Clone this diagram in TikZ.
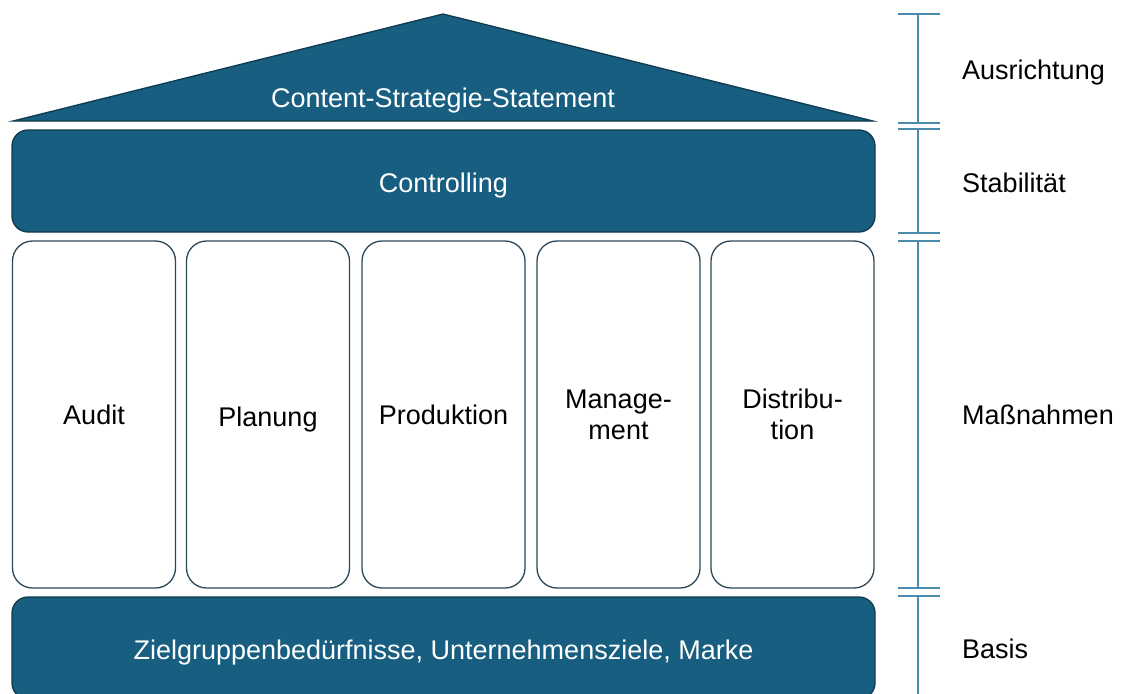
\documentclass[tikz,border=0pt]{standalone}
\usepackage{fontspec}
\setmainfont{Liberation Sans}
\definecolor{housefill}{RGB}{23,94,128}
\definecolor{houseline}{RGB}{16,58,78}
\definecolor{pillarline}{RGB}{44,72,88}
\definecolor{scaleline}{RGB}{74,140,174}
\tikzset{
  beam/.style={rectangle, rounded corners=16pt, draw=houseline, line width=1.3pt, fill=housefill,
    text=white, minimum width=863pt, minimum height=102pt, inner sep=0pt,
    text height=22pt, text depth=0pt},
  pillar/.style={rectangle, rounded corners=20pt, draw=pillarline, line width=1.3pt, fill=white,
    minimum width=163pt, minimum height=347pt, align=center, inner sep=0pt},
  tick/.style={draw=scaleline, line width=1.3pt},
  levellabel/.style={anchor=west, inner sep=0pt}
}
\begin{document}
\begin{tikzpicture}[x=1pt, y=-1pt, font=\fontsize{27}{31}\selectfont]
\clip (0,0) rectangle (1123,693);
\coordinate (roofl) at (13,121);
\coordinate (rooft) at (443,14);
\coordinate (roofr) at (873,121);
\fill[housefill, draw=houseline, line width=1.3pt] (roofl) -- (rooft) -- (roofr) -- cycle;
\node[text=white, text height=22pt, text depth=0pt] (statement) at (443,96) {Content-Strategie-Statement};
\node[beam] (controlling) at (443.5,181) {Controlling};
\node[pillar] (audit) at (94,414.5) {Audit};
\node[pillar] (planung) at (268,414.5) {\raisebox{-5pt}[\height][\depth]{Planung}};
\node[pillar] (produktion) at (443.5,414.5) {Produktion};
\node[pillar] (management) at (618.5,414.5) {Manage-\\ment};
\node[pillar] (distribution) at (792.5,414.5) {Distribu-\\tion};
\node[beam] (basis) at (443.5,648) {Zielgruppenbedürfnisse, Unternehmensziele, Marke};
\coordinate (s0) at (918,14);
\coordinate (s1) at (918,123);
\coordinate (s2) at (918,129);
\coordinate (s3) at (918,233);
\coordinate (s4) at (918,241);
\coordinate (s5) at (918,588);
\coordinate (s6) at (918,596);
\coordinate (s7) at (918,700);
\draw[tick] (s0) -- (s1);
\draw[tick] (s2) -- (s3);
\draw[tick] (s4) -- (s5);
\draw[tick] (s6) -- (s7);
\foreach \s in {s0,s1,s2,s3,s4,s5,s6}
  \draw[tick] ([xshift=-20pt]\s) -- ([xshift=22pt]\s);
\node[levellabel] (ausrichtung) at (962,72.5) {Ausrichtung};
\node[levellabel] (stabilitaet) at (962,183) {Stabilität};
\node[levellabel] (massnahmen) at (962,415) {Maßnahmen};
\node[levellabel] (basislabel) at (962,649) {Basis};
\end{tikzpicture}
\end{document}
